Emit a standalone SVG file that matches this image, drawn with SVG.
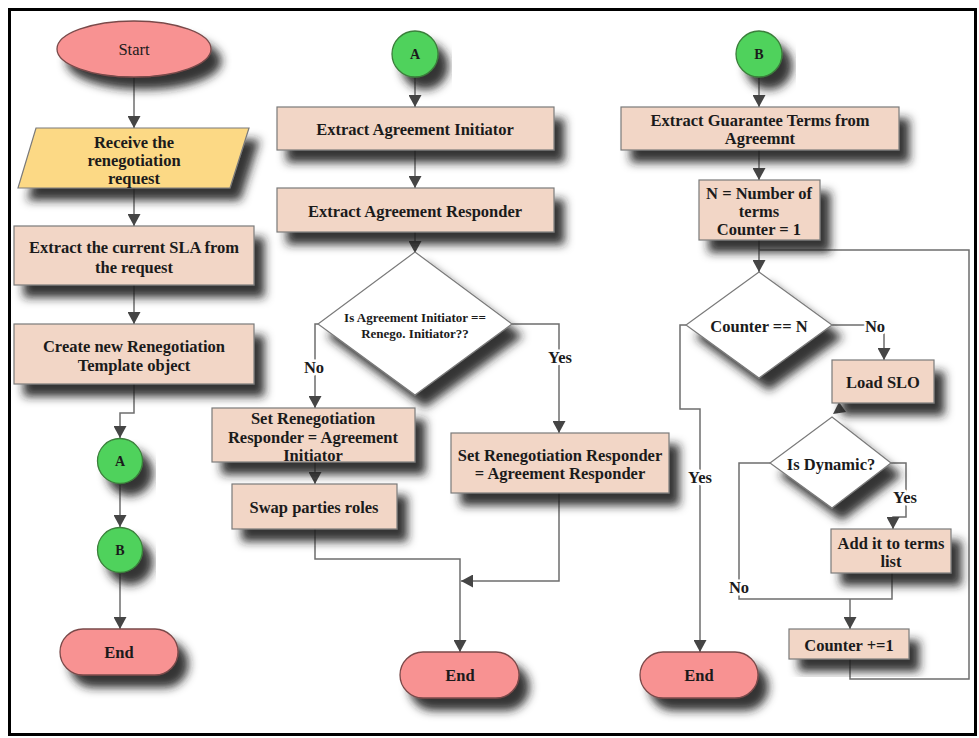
<svg xmlns="http://www.w3.org/2000/svg" width="979" height="738" viewBox="0 0 979 738">
  <style>
    text { font-family: "Liberation Serif", "Times New Roman", serif; font-weight: bold; fill: #1b1b1b; text-anchor: middle; dominant-baseline: central; }
    .t15 { font-size: 16.5px; }
    .t13 { font-size: 14px; }
    .t12 { font-size: 13px; }
    .box { fill: #f2d6c6; stroke: #7a7a7a; stroke-width: 1.2; }
    .io { fill: #fcd985; stroke: #7a7a7a; stroke-width: 1.2; }
    .term { fill: #f89292; stroke: #7a4a4a; stroke-width: 1.3; }
    .conn { fill: #4fd25c; stroke: #3b7f3b; stroke-width: 1.3; }
    .dec { fill: #ffffff; stroke: #7a7a7a; stroke-width: 1.2; }
    .edge { fill: none; stroke: #6e6e6e; stroke-width: 1.5; }
    .lbl { paint-order: stroke; stroke: #ffffff; stroke-width: 5px; stroke-linejoin: round; }
    .shadow { filter: url(#drop); }
  </style>
  <defs>
    <filter id="drop" x="-20%" y="-30%" width="150%" height="190%">
      <feDropShadow dx="10" dy="12" stdDeviation="5" flood-color="#1a1a1a" flood-opacity="0.9"/>
    </filter>
    <marker id="arrow" markerUnits="userSpaceOnUse" markerWidth="13" markerHeight="13" refX="12" refY="6.5" orient="auto">
      <path d="M0,0 L12,6.5 L0,13 z" fill="#454545"/>
    </marker>
  </defs>

  <rect x="0" y="0" width="979" height="738" fill="#ffffff"/>
  <rect x="9.5" y="9.5" width="966" height="725" fill="none" stroke="#000000" stroke-width="3"/>

  <!-- connectors -->
  <g id="connectors">
    <path class="edge" d="M134,77 V128" marker-end="url(#arrow)"/>
    <path class="edge" d="M134,188 V226" marker-end="url(#arrow)"/>
    <path class="edge" d="M134,285 V324" marker-end="url(#arrow)"/>
    <path class="edge" d="M134,384 V413 H120 V438" marker-end="url(#arrow)"/>
    <path class="edge" d="M120,484 V527" marker-end="url(#arrow)"/>
    <path class="edge" d="M120,573 V629" marker-end="url(#arrow)"/>

    <path class="edge" d="M415,77 V107" marker-end="url(#arrow)"/>
    <path class="edge" d="M415,150 V188" marker-end="url(#arrow)"/>
    <path class="edge" d="M415,232 V253" marker-end="url(#arrow)"/>
    <path class="edge" d="M318,324 H315 V408" marker-end="url(#arrow)"/>
    <path class="edge" d="M512,324 H559 V433" marker-end="url(#arrow)"/>
    <path class="edge" d="M315,462 V484" marker-end="url(#arrow)"/>
    <path class="edge" d="M315,529 V559 H460 V652" marker-end="url(#arrow)"/>
    <path class="edge" d="M559,493 V581 H461" marker-end="url(#arrow)"/>

    <path class="edge" d="M759,77 V107" marker-end="url(#arrow)"/>
    <path class="edge" d="M759,150 V180" marker-end="url(#arrow)"/>
    <path class="edge" d="M759,240 V272" marker-end="url(#arrow)"/>
    <path class="edge" d="M850,659 V679 H969 V250 H759"/>
    <path class="edge" d="M832,325 H884 V360" marker-end="url(#arrow)"/>
    <path class="edge" d="M686,325 H680 V409 H700 V652" marker-end="url(#arrow)"/>
    <path d="M833,414 L839,402 L846,412 z" fill="#454545"/>
    <path class="edge" d="M891,463 H906 V517 H893 V529" marker-end="url(#arrow)"/>
    <path class="edge" d="M770,463 H739 V599 H850"/>
    <path class="edge" d="M892,573 V599 H850"/>
    <path class="edge" d="M850,599 V629" marker-end="url(#arrow)"/>

    <text class="t15 lbl" x="314" y="367">No</text>
    <text class="t15 lbl" x="560" y="357">Yes</text>
    <text class="t15 lbl" x="875" y="326">No</text>
    <text class="t15 lbl" x="700" y="477">Yes</text>
    <text class="t15 lbl" x="905" y="497">Yes</text>
    <text class="t15 lbl" x="739" y="587">No</text>
  </g>

  <!-- left column -->
  <g id="start">
    <ellipse class="term shadow" cx="134" cy="49" rx="77" ry="28"/>
    <text class="t15" x="134" y="49" style="font-weight:normal">Start</text>
  </g>
  <g id="receive">
    <polygon class="io shadow" points="36,128 249,128 230,188 18,188"/>
    <text class="t15" x="134" y="142">Receive the</text>
    <text class="t15" x="134" y="160">renegotiation</text>
    <text class="t15" x="134" y="178">request</text>
  </g>
  <g id="extract-sla">
    <rect class="box shadow" x="14" y="226" width="240" height="59"/>
    <text class="t15" x="134" y="247">Extract the current SLA from</text>
    <text class="t15" x="134" y="267">the request</text>
  </g>
  <g id="create-template">
    <rect class="box shadow" x="14" y="324" width="240" height="60"/>
    <text class="t15" x="134" y="346">Create new Renegotiation</text>
    <text class="t15" x="134" y="365">Template object</text>
  </g>
  <g id="to-a">
    <circle class="conn shadow" cx="120" cy="461" r="22.5"/>
    <text class="t13" x="120" y="461">A</text>
  </g>
  <g id="to-b">
    <circle class="conn shadow" cx="120" cy="550" r="22.5"/>
    <text class="t13" x="120" y="550">B</text>
  </g>
  <g id="end-left">
    <rect class="term shadow" x="60" y="629" width="118" height="46" rx="23"/>
    <text class="t15" x="119" y="652">End</text>
  </g>

  <!-- middle column -->
  <g id="from-a">
    <circle class="conn shadow" cx="415" cy="54" r="23"/>
    <text class="t13" x="415" y="54">A</text>
  </g>
  <g id="extract-initiator">
    <rect class="box shadow" x="277" y="107" width="277" height="43"/>
    <text class="t15" x="415" y="129">Extract Agreement Initiator</text>
  </g>
  <g id="extract-responder">
    <rect class="box shadow" x="277" y="188" width="277" height="44"/>
    <text class="t15" x="415" y="211">Extract Agreement Responder</text>
  </g>
  <g id="check-initiator">
    <polygon class="dec shadow" points="415,252 512,324 415,395 318,324"/>
    <text class="t12" x="415" y="317">Is Agreement Initiator ==</text>
    <text class="t12" x="415" y="333">Renego. Initiator??</text>
  </g>
  <g id="set-responder-initiator">
    <rect class="box shadow" x="212" y="408" width="203" height="54"/>
    <text class="t15" x="313" y="418">Set Renegotiation</text>
    <text class="t15" x="313" y="437">Responder = Agreement</text>
    <text class="t15" x="313" y="455">Initiator</text>
  </g>
  <g id="swap-roles">
    <rect class="box shadow" x="232" y="484" width="165" height="45"/>
    <text class="t15" x="314" y="507">Swap parties roles</text>
  </g>
  <g id="set-responder-responder">
    <rect class="box shadow" x="451" y="433" width="218" height="60"/>
    <text class="t15" x="560" y="455">Set Renegotiation Responder</text>
    <text class="t15" x="560" y="473">= Agreement Responder</text>
  </g>
  <g id="end-middle">
    <rect class="term shadow" x="400" y="652" width="119" height="46" rx="23"/>
    <text class="t15" x="460" y="675">End</text>
  </g>

  <!-- right column -->
  <g id="from-b">
    <circle class="conn shadow" cx="759" cy="54" r="23"/>
    <text class="t13" x="759" y="54">B</text>
  </g>
  <g id="extract-terms">
    <rect class="box shadow" x="621" y="107" width="278" height="43"/>
    <text class="t15" x="760" y="120">Extract Guarantee Terms from</text>
    <text class="t15" x="760" y="138">Agreemnt</text>
  </g>
  <g id="init-counter">
    <rect class="box shadow" x="699" y="180" width="121" height="60"/>
    <text class="t15" x="759" y="193">N = Number of</text>
    <text class="t15" x="759" y="211">terms</text>
    <text class="t15" x="759" y="229">Counter = 1</text>
  </g>
  <g id="check-counter">
    <polygon class="dec shadow" points="759,272 832,325 759,378 686,325"/>
    <text class="t15" x="759" y="326">Counter == N</text>
  </g>
  <g id="load-slo">
    <rect class="box shadow" x="832" y="360" width="102" height="43"/>
    <text class="t15" x="883" y="382">Load SLO</text>
  </g>
  <g id="check-dynamic">
    <polygon class="dec shadow" points="832,417 891,463 832,508 770,463"/>
    <text class="t15" x="831" y="464">Is Dynamic?</text>
  </g>
  <g id="add-term">
    <rect class="box shadow" x="831" y="529" width="120" height="44"/>
    <text class="t15" x="891" y="543">Add it to terms</text>
    <text class="t15" x="891" y="561">list</text>
  </g>
  <g id="increment">
    <rect class="box shadow" x="789" y="629" width="120" height="30"/>
    <text class="t15" x="849" y="645">Counter +=1</text>
  </g>
  <g id="end-right">
    <rect class="term shadow" x="640" y="652" width="118" height="46" rx="23"/>
    <text class="t15" x="699" y="675">End</text>
  </g>
</svg>
